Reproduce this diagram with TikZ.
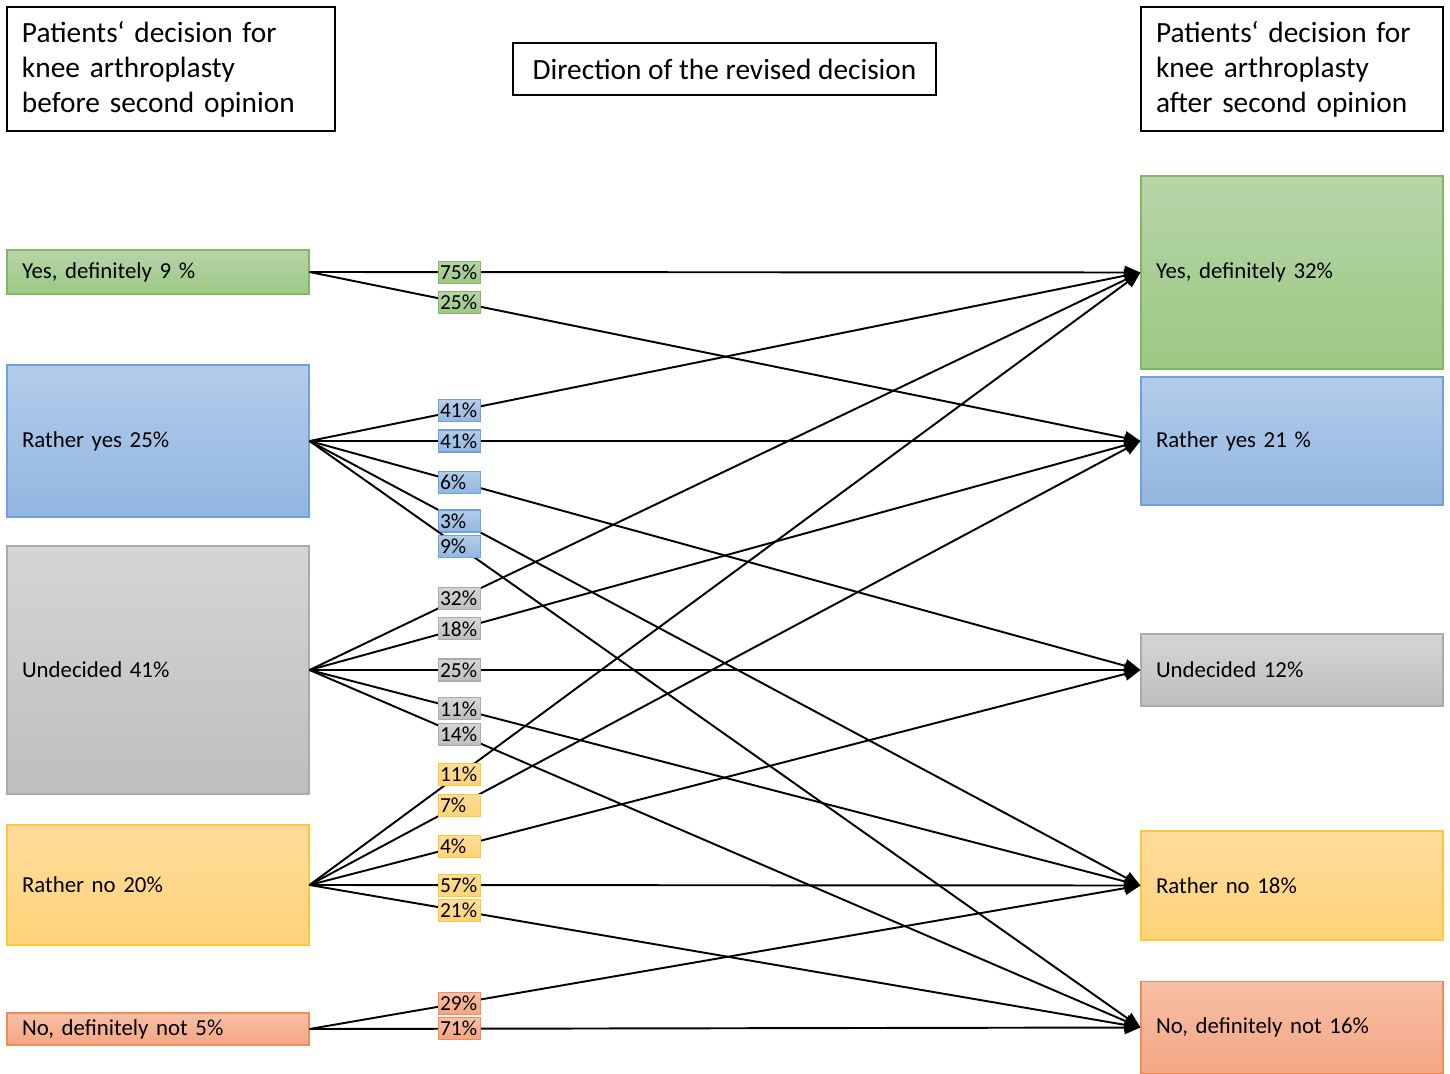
\documentclass[tikz,border=0pt]{standalone}
\usepackage{fontspec}
\setmainfont{Carlito}
\usepackage{tikz}
\usetikzlibrary{arrows.meta}

\definecolor{yesTop}{HTML}{B6D5A8}
\definecolor{yesBot}{HTML}{9CC883}
\definecolor{yesLine}{HTML}{82B863}
\definecolor{ryTop}{HTML}{B3CCEA}
\definecolor{ryBot}{HTML}{92B6E1}
\definecolor{ryLine}{HTML}{6FA2D9}
\definecolor{unTop}{HTML}{D5D5D5}
\definecolor{unBot}{HTML}{BEBEBE}
\definecolor{unLine}{HTML}{ABABAB}
\definecolor{rnTop}{HTML}{FFDC9C}
\definecolor{rnBot}{HTML}{FFD37A}
\definecolor{rnLine}{HTML}{FFC737}
\definecolor{noTop}{HTML}{F7BFA6}
\definecolor{noBot}{HTML}{F4A683}
\definecolor{noLine}{HTML}{F08D57}

\begin{document}
\begin{tikzpicture}[x=1cm,y=-1cm,
    decbox/.style={align=left,text width=5.44cm,inner xsep=0.3cm,inner ysep=0pt,
                   minimum width=6.04cm,line width=0.6pt,font=\fontsize{13}{15.6}\selectfont},
    yesbox/.style={decbox,draw=yesLine,top color=yesTop,bottom color=yesBot},
    rybox/.style={decbox,draw=ryLine,top color=ryTop,bottom color=ryBot},
    unbox/.style={decbox,draw=unLine,top color=unTop,bottom color=unBot},
    rnbox/.style={decbox,draw=rnLine,top color=rnTop,bottom color=rnBot},
    nobox/.style={decbox,draw=noLine,top color=noTop,bottom color=noBot},
    yespct/.style={draw=yesLine,top color=yesTop,bottom color=yesBot},
    rypct/.style={draw=ryLine,top color=ryTop,bottom color=ryBot},
    unpct/.style={draw=unLine,top color=unTop,bottom color=unBot},
    rnpct/.style={draw=rnLine,top color=rnTop,bottom color=rnBot},
    nopct/.style={draw=noLine,top color=noTop,bottom color=noBot}]
\useasboundingbox (0,0) rectangle (29,21.48);

% headings
\begin{scope}[every node/.style={draw=black,line width=1pt,align=left,inner xsep=0.3cm,
                                 inner ysep=0.05cm,font=\fontsize{16.7}{20}\selectfont}]
    \node[minimum width=6.56cm,minimum height=2.48cm,text width=5.96cm] (before) at (3.42,1.38)
        {Patients‘ decision for\\knee arthroplasty\\before second opinion};
    \node[minimum width=8.46cm,minimum height=1.04cm] (direction) at (14.49,1.38)
        {Direction of the revised decision};
    \node[minimum width=6.04cm,minimum height=2.48cm,text width=5.44cm] (after) at (25.84,1.38)
        {Patients‘ decision for\\knee arthroplasty\\after second opinion};
\end{scope}

% before second opinion
\node[yesbox,minimum height=0.88cm] (b1) at (3.16,5.44) {Yes, definitely 9 \%};
\node[rybox,minimum height=3.04cm] (b2) at (3.16,8.82) {Rather yes 25\%};
\node[unbox,minimum height=4.96cm] (b3) at (3.16,13.40) {Undecided 41\%};
\node[rnbox,minimum height=2.40cm] (b4) at (3.16,17.70) {Rather no 20\%};
\node[nobox,minimum height=0.64cm] (b5) at (3.16,20.58) {No, definitely not 5\%};

% after second opinion
\node[yesbox,minimum height=3.86cm] (a1) at (25.84,5.45) {Yes, definitely 32\%};
\node[rybox,minimum height=2.56cm] (a2) at (25.84,8.82) {Rather yes 21 \%};
\node[unbox,minimum height=1.44cm] (a3) at (25.84,13.40) {Undecided 12\%};
\node[rnbox,minimum height=2.18cm] (a4) at (25.84,17.71) {Rather no 18\%};
\node[nobox,minimum height=1.84cm] (a5) at (25.84,20.55) {No, definitely not 16\%};

% revised decisions
\begin{scope}[>={Triangle[length=9pt,width=7.5pt]},
              every node/.style={pos=0.18,align=left,text width=0.76cm,inner xsep=0.04cm,
                                 inner ysep=0pt,minimum height=0.44cm,line width=0.6pt,
                                 font=\fontsize{12.2}{13}\selectfont},
              every edge/.style={draw=black,line width=1.1pt}]
    \path [->] (b1.east) edge node[yespct] {75\%} (a1.west);
    \path [->] (b1.east) edge node[yespct] {25\%} (a2.west);

    \path [->] (b2.east) edge node[rypct] {41\%} (a1.west);
    \path [->] (b2.east) edge node[rypct] {41\%} (a2.west);
    \path [->] (b2.east) edge node[rypct] {6\%} (a3.west);
    \path [->] (b2.east) edge node[rypct] {3\%} (a4.west);
    \path [->] (b2.east) edge node[rypct] {9\%} (a5.west);

    \path [->] (b3.east) edge node[unpct] {32\%} (a1.west);
    \path [->] (b3.east) edge node[unpct] {18\%} (a2.west);
    \path [->] (b3.east) edge node[unpct] {25\%} (a3.west);
    \path [->] (b3.east) edge node[unpct] {11\%} (a4.west);
    \path [->] (b3.east) edge node[unpct] {14\%} (a5.west);

    \path [->] (b4.east) edge node[rnpct] {11\%} (a1.west);
    \path [->] (b4.east) edge node[rnpct] {7\%} (a2.west);
    \path [->] (b4.east) edge node[rnpct] {4\%} (a3.west);
    \path [->] (b4.east) edge node[rnpct] {57\%} (a4.west);
    \path [->] (b4.east) edge node[rnpct] {21\%} (a5.west);

    \path [->] (b5.east) edge node[nopct] {29\%} (a4.west);
    \path [->] (b5.east) edge node[nopct] {71\%} (a5.west);
\end{scope}
\end{tikzpicture}
\end{document}
